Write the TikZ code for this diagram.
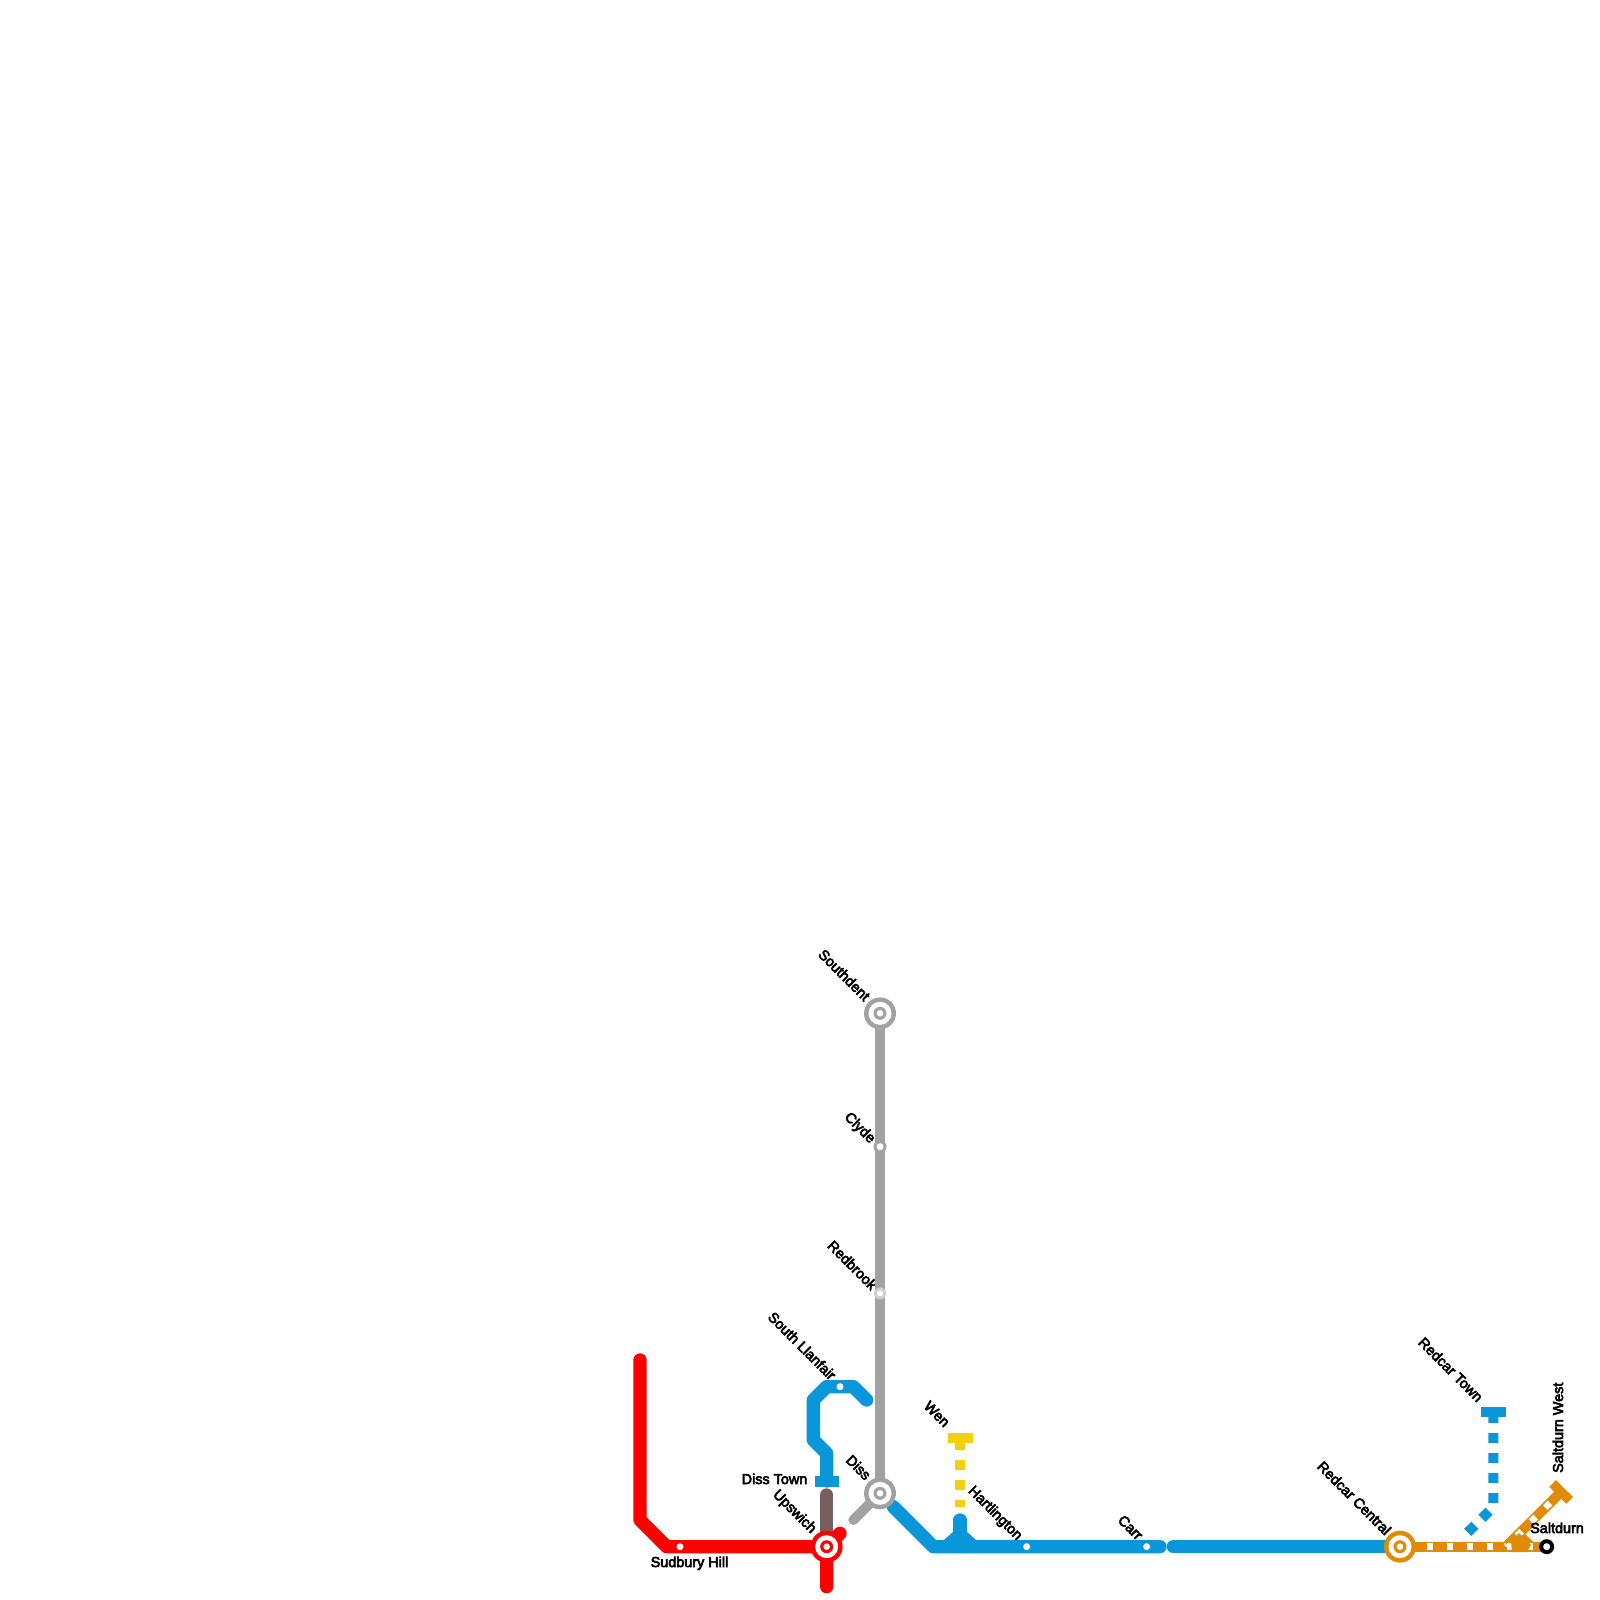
\documentclass[tikz,border=0pt]{standalone}
\usepackage{fontspec}
\setmainfont[FakeBold=4]{Liberation Sans}
\definecolor{lred}{HTML}{FF0000}
\definecolor{lblue}{HTML}{0A97D9}
\definecolor{lgrey}{HTML}{A2A2A2}
\definecolor{lbrown}{HTML}{795E5E}
\definecolor{lyellow}{HTML}{F2CF13}
\definecolor{lorange}{HTML}{E08A05}
\tikzset{
 x=1pt,y=-1pt,
 lbl/.style={inner sep=0pt,font=\fontsize{14.4}{14.4}\selectfont,text=black},
 dl/.style={lbl,rotate=-45,anchor=base east},
 thick line/.style={line width=13.33pt,line cap=round,line join=round},
 mid line/.style={line width=10pt,line cap=round,line join=round},
 dash line/.style={line width=10pt,dash pattern=on 10pt off 10pt},
 inset/.style={line width=6.67pt,white,dash pattern=on 6.67pt off 13.33pt},
 dot/.style={circle,fill=white,inner sep=0pt,minimum size=7pt},
}
\newcommand{\bigstation}[3]{%
 \node[circle,fill=#2,inner sep=0pt,minimum size=32pt] (#1) at #3 {};
 \fill[white] (#1.center) circle[radius=11.5pt];
 \fill[#2] (#1.center) circle[radius=6.5pt];
 \fill[white] (#1.center) circle[radius=3.3pt];
}
\begin{document}
\begin{tikzpicture}
\useasboundingbox (0,0) rectangle (1600,1600);
\coordinate (rs) at (640,1360); \coordinate (r1) at (640,1520); \coordinate (r2) at (666.67,1546.67);
\coordinate (up) at (826.67,1546.67); \coordinate (rd) at (826.67,1586.67); \coordinate (rne) at (840,1533.33);
\coordinate (bs) at (866.67,1400); \coordinate (b1) at (853.33,1386.67); \coordinate (b2) at (826.67,1386.67);
\coordinate (b3) at (813.33,1400); \coordinate (b4) at (813.33,1440); \coordinate (b5) at (826.67,1453.33);
\coordinate (dt) at (826.67,1481);
\coordinate (sd) at (880,1013.33); \coordinate (di) at (880,1493.33); \coordinate (gs) at (853.33,1520);
\coordinate (b6) at (893.33,1506.67); \coordinate (b7) at (933.33,1546.67); \coordinate (b8) at (1160,1546.67);
\coordinate (b9) at (1173.33,1546.67); \coordinate (rc) at (1400,1546.67);
\coordinate (sa) at (1546.67,1546.67); \coordinate (sw) at (1561,1492); \coordinate (oj) at (1506,1546.67);
% labels
\node[dl] (lsd) at (864,1002) {Southdent};
\node[dl] (lcl) at (870,1144) {Clyde};
\node[dl] (lrb) at (871,1291) {Redbrook};
\node[dl] (lsl) at (830,1381) {South Llanfair};
\node[dl] (ldi) at (865,1481) {Diss};
\node[dl] (lup) at (811,1534) {Upswich};
\node[dl] (lwe) at (944,1428) {Wen};
\node[dl] (lha) at (1017,1541) {Hartlington};
\node[dl] (lca) at (1137,1541) {Carr};
\node[dl] (lrc) at (1385,1536) {Redcar Central};
\node[dl] (lrt) at (1477,1403) {Redcar Town};
% grey
\draw[lgrey,mid line,line cap=butt] (sd) -- (di);
\draw[lgrey,mid line] (di) -- (gs);
% red
\draw[lred,thick line] (rs) -- (r1) -- (r2) -- (up) -- (rd);
\draw[lred,thick line] (up) -- (rne);
% brown
\draw[lbrown,thick line] (826.67,1495) -- (up);
% blue
\draw[lblue,thick line] (bs) -- (b1) -- (b2) -- (b3) -- (b4) -- (b5) -- (dt);
\draw[lblue,line width=11pt] (815,1481) -- (839,1481);
\draw[lblue,thick line] (b6) -- (b7) -- (b8);
\draw[lblue,thick line] (b9) -- (rc);
\draw[lblue,thick line] (960,1520) -- (960,1546.67);
\fill[lblue] (944,1540) -- (955,1530) -- (965,1530) -- (976,1540) -- (976,1546) -- (944,1546) -- cycle;
% yellow
\draw[lyellow,dash line] (960,1440) -- (960,1507);
\draw[lyellow,line width=10pt] (948,1438) -- (972.5,1438);
% redcar town
\draw[lblue,dash line] (1493.33,1413) -- (1493.33,1507) -- (1467,1533);
\draw[lblue,line width=10pt] (1481,1411.5) -- (1506,1411.5);
% orange
\draw[lorange,line width=10pt] (rc) -- (sa);
\draw[lorange,line width=10pt] (oj) -- (sw);
\draw[lorange,line width=10pt] (1518.5,1534.5) -- (1531,1546.67);
\draw[inset] (1426.67,1546.67) -- (sa);
\draw[inset] (1550,1503) -- (oj);
\fill[lorange] (1511,1541) -- (1519,1533) -- (1531,1545) -- (1527,1552) -- (1512,1552) -- cycle;
\draw[lorange,line width=9.5pt] (1552.5,1483.5) -- (1569.7,1500.3);
% stations
\node[dot] (nsu) at (680,1546.67) {};
\node[dot] (nsl) at (840,1386.67) {};
\node[dot] (nha) at (1026.67,1546.67) {};
\node[dot] (nca) at (1146.67,1546.67) {};
\node[circle,fill=lgrey,inner sep=0pt,minimum size=13pt] (ncl) at (880,1146.67) {};
\node[dot] (ncl2) at (880,1146.67) {};
\node[circle,fill=lgrey!50,inner sep=0pt,minimum size=12pt] (nrb) at (880,1293.33) {};
\node[dot,minimum size=6pt] (nrb2) at (880,1293.33) {};
\bigstation{nsd}{lgrey}{(sd)}
\bigstation{ndi}{lgrey}{(di)}
\bigstation{nup}{lred}{(up)}
\bigstation{nrc}{lorange}{(rc)}
\node[circle,fill=black,inner sep=0pt,minimum size=15pt] (nsa) at (sa) {};
\node[dot] (nsa2) at (sa) {};
% top labels
\node[lbl,anchor=base west] (lsu) at (650.5,1567) {Sudbury Hill};
\node[lbl,anchor=base west] (ldt) at (741.5,1484) {Diss Town};
\node[lbl,anchor=base west] (lsa) at (1530,1533) {Saltdurn};
\node[lbl,anchor=base west,rotate=90] (lsw) at (1563,1473) {Saltdurn West};
\end{tikzpicture}
\end{document}
